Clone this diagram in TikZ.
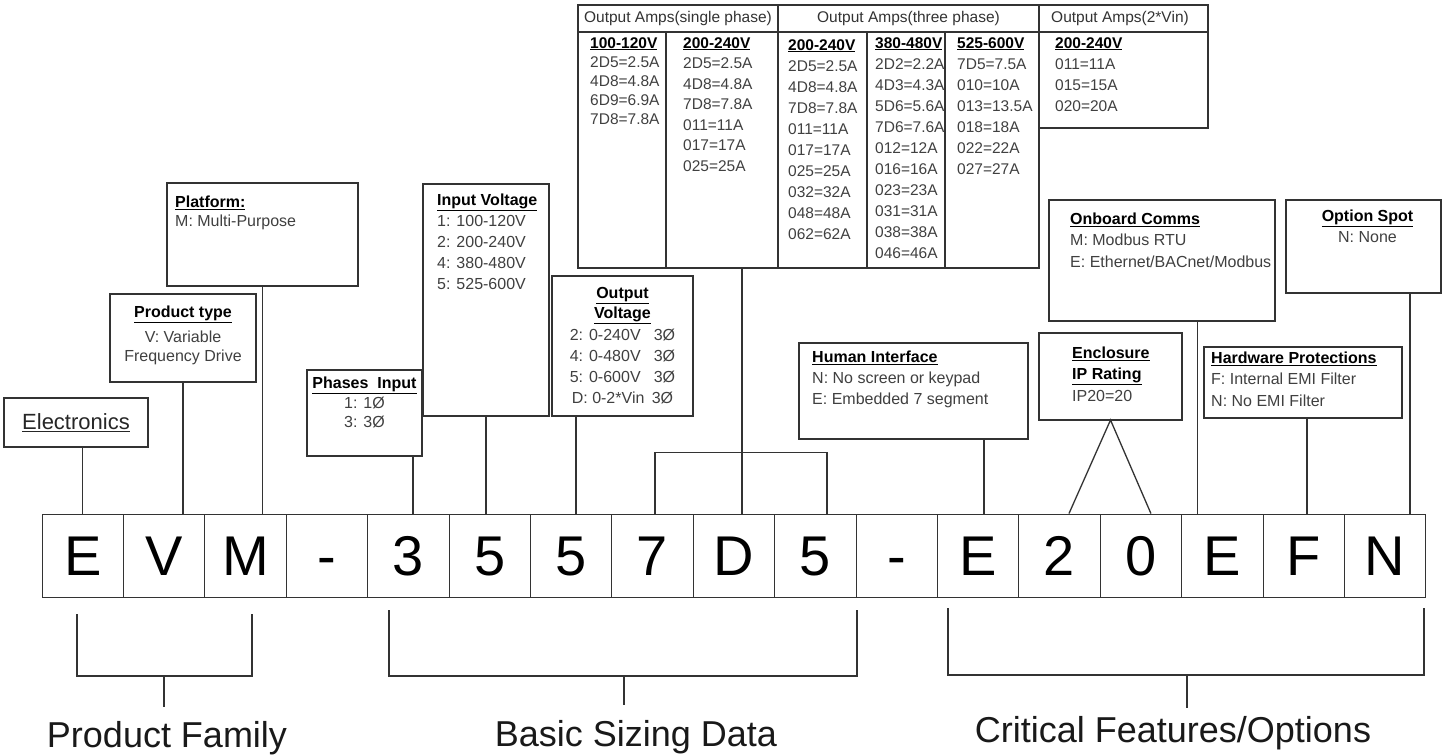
\documentclass[tikz,border=0pt]{standalone}
\usepackage{fontspec}
\setmainfont{Liberation Sans}
\usepackage{tikz}
\usetikzlibrary{positioning, calc}

\newcommand{\hd}[1]{\textbf{\textcolor{black}{\underline{#1}}}}

\begin{document}
\begin{tikzpicture}[x=1pt, y=-1pt,
  box/.style={draw=black!80, line width=1.3pt, inner sep=0pt, outer sep=0pt},
  txt/.style={inner sep=0pt, text=black!75, font=\fontsize{16}{21}\selectfont},
  amp/.style={inner sep=0pt, text=black!75, align=left, anchor=north west, font=\fontsize{15.5}{21}\selectfont},
  amphead/.style={inner sep=0pt, text=black!80, font=\fontsize{15.5}{18}\selectfont},
  cell/.style={draw=black!80, line width=1pt, minimum width=81.4pt, minimum height=83pt, inner sep=0pt, text height=40pt, text depth=0pt, font=\fontsize{56}{60}\selectfont},
  link/.style={draw=black!80, line width=1.3pt},
  group/.style={inner sep=0pt, anchor=base, text=black!90, font=\fontsize{36}{40}\selectfont}]
  \fill[white] (0,0) rectangle (1443,755);
  \useasboundingbox (0,0) rectangle (1443,755);

  % model code
  \foreach \ch [count=\i] in {E,V,M,-,3,5,5,7,D,5,-,E,2,0,E,F,N}
    \node[cell] (c\i) at ({42+81.4*(\i-0.5)},555.5) {\ch};

  % where the connectors land
  \coordinate (t5) at ([xshift=4.7pt]c5.north);
  \coordinate (t6) at ([xshift=-3.7pt]c6.north);
  \coordinate (t7) at ([xshift=5pt]c7.north);
  \coordinate (t8) at ([xshift=2.5pt]c8.north);
  \coordinate (t9) at ([xshift=8pt]c9.north);
  \coordinate (t10) at ([xshift=11.7pt]c10.north);
  \coordinate (t12) at ([xshift=6pt]c12.north);
  \coordinate (t13) at ([xshift=9.5pt]c13.north);
  \coordinate (t14) at ([xshift=10pt]c14.north);
  \coordinate (t15) at ([xshift=-25pt]c15.north);
  \coordinate (t16) at ([xshift=3.3pt]c16.north);
  \coordinate (t17) at ([xshift=25pt]c17.north);

  % product family boxes
  \node[box, anchor=north west, minimum width=144pt, minimum height=49pt, text=black!85,
        font=\fontsize{22}{26}\selectfont] (elec) at (4,398) {\underline{Electronics}};
  \draw[link] (elec.south -| c1.north) -- (c1.north);

  \node[box, anchor=north west, minimum width=146pt, minimum height=88pt] (ptype) at (110,294) {};
  \node[txt, align=center, below=12pt of ptype.north] (ptype-t)
    {\hd{Product type}\\[4pt] V: Variable\\[-2pt] Frequency Drive};
  \draw[link] (ptype.south) -- (ptype.south |- c2.north);

  \node[box, anchor=north west, minimum width=191pt, minimum height=103pt] (plat) at (167,183) {};
  \node[txt, align=left, below right=13pt and 8pt of plat.north west] (plat-t)
    {\hd{Platform:}\\[-2pt] M: Multi-Purpose};
  \draw[link] (plat.south) -- (plat.south |- c3.north);

  % sizing boxes
  \node[box, anchor=north west, minimum width=115pt, minimum height=86pt] (phase) at (307,370) {};
  \node[txt, align=center, below=7pt of phase.north] (phase-t)
    {\hd{Phases\ \ Input}\\[-1pt] 1: 1Ø\\[-2pt] 3: 3Ø};
  \draw[link] (phase.south -| t5) -- (t5);

  \node[box, anchor=north west, minimum width=126pt, minimum height=232pt] (involt) at (423,184) {};
  \node[txt, align=left, below right=10pt and 14pt of involt.north west] (involt-t)
    {\hd{Input Voltage}\\ 1: 100-120V\\ 2: 200-240V\\ 4: 380-480V\\ 5: 525-600V};
  \draw[link] (involt.south -| t6) -- (t6);

  \node[box, anchor=north west, minimum width=141pt, minimum height=140pt] (outvolt) at (552,276) {};
  \node[txt, align=center, below=11pt of outvolt.north] (outvolt-t)
    {\hd{Output}\\[-1pt] \hd{Voltage}\\[1pt]
     \makebox[84pt][l]{2: 0-240V}3Ø\\ \makebox[84pt][l]{4: 0-480V}3Ø\\
     \makebox[84pt][l]{5: 0-600V}3Ø\\ \makebox[80pt][l]{D: 0-2*Vin}3Ø};
  \draw[link] (outvolt.south -| t7) -- (t7);

  % output amps table
  \node[box, anchor=north west, minimum width=461pt, minimum height=263pt] (amps) at (578,5) {};
  \node[box, anchor=north west, minimum width=169pt, minimum height=123pt] (dbl) at (1039,5) {};
  \draw[link] (578,32) -- (1208,32);
  \foreach \x/\y in {778/5, 666/32, 867/32, 945/32}
    \draw[link] (\x,\y) -- (\x,268);
  \node[amphead] (h1) at (678,18.5) {Output Amps(single phase)};
  \node[amphead] (h3) at (908.5,18.5) {Output Amps(three phase)};
  \node[amphead] (h2) at (1120,18.5) {Output Amps(2*Vin)};
  \node[amp, font=\fontsize{15.5}{19}\selectfont] (a1) at (590,37)
    {\hd{100-120V}\\ 2D5=2.5A\\ 4D8=4.8A\\ 6D9=6.9A\\ 7D8=7.8A};
  \node[amp, font=\fontsize{15.5}{20.5}\selectfont] (a2) at (683,37)
    {\hd{200-240V}\\ 2D5=2.5A\\ 4D8=4.8A\\ 7D8=7.8A\\ 011=11A\\ 017=17A\\ 025=25A};
  \node[amp] (a3) at (788,39)
    {\hd{200-240V}\\ 2D5=2.5A\\ 4D8=4.8A\\ 7D8=7.8A\\ 011=11A\\ 017=17A\\ 025=25A\\ 032=32A\\ 048=48A\\ 062=62A};
  \node[amp] (a4) at (875,37)
    {\hd{380-480V}\\ 2D2=2.2A\\ 4D3=4.3A\\ 5D6=5.6A\\ 7D6=7.6A\\ 012=12A\\ 016=16A\\ 023=23A\\ 031=31A\\ 038=38A\\ 046=46A};
  \node[amp] (a5) at (957,37)
    {\hd{525-600V}\\ 7D5=7.5A\\ 010=10A\\ 013=13.5A\\ 018=18A\\ 022=22A\\ 027=27A};
  \node[amp] (a6) at (1055,37)
    {\hd{200-240V}\\ 011=11A\\ 015=15A\\ 020=20A};
  \draw[link] (amps.south -| t9) -- (t9);
  \draw[link] (t8) -- ++(0,-61) -| (t10);

  % feature boxes
  \node[box, anchor=north west, minimum width=229pt, minimum height=96pt] (human) at (799,343) {};
  \node[txt, align=left, below right=8pt and 13pt of human.north west] (human-t)
    {\hd{Human Interface}\\ N: No screen or keypad\\ E: Embedded 7 segment};
  \draw[link] (human.south -| t12) -- (t12);

  \node[box, anchor=north west, minimum width=143pt, minimum height=87pt] (encl) at (1039,333) {};
  \node[txt, align=left, below right=14pt and 33pt of encl.north west] (encl-t)
    {\hd{Enclosure}\\ \hd{IP Rating}\\[1pt] IP20=20};
  \draw[link] (t13) -- (encl.south) -- (t14);

  \node[box, anchor=north west, minimum width=226pt, minimum height=121pt] (comms) at (1049,200) {};
  \node[txt, align=left, below right=13pt and 21pt of comms.north west] (comms-t)
    {\hd{Onboard Comms}\\ M: Modbus RTU\\[1pt] E: Ethernet/BACnet/Modbus};
  \draw[link] (comms.south -| t15) -- (t15);

  \node[box, anchor=north west, minimum width=198pt, minimum height=71pt] (hwp) at (1204,347) {};
  \node[txt, align=left, below right=5pt and 7pt of hwp.north west] (hwp-t)
    {\hd{Hardware Protections}\\ F: Internal EMI Filter\\[1pt] N: No EMI Filter};
  \draw[link] (hwp.south -| t16) -- (t16);

  \node[box, anchor=north west, minimum width=155pt, minimum height=93pt] (opt) at (1286,200) {};
  \node[txt, align=center, below=10pt of opt.north, xshift=4pt] (opt-t)
    {\hd{Option Spot}\\ N: None};
  \draw[link] (opt.south -| t17) -- (t17);

  % groups below the code
  \coordinate (bfam) at (164,676);
  \coordinate (bsize) at (624,676);
  \coordinate (bfeat) at (1187,675);
  \draw[link] (77,614) |- (252,676) -- (252,614);
  \draw[link] (389,610) |- (857,676) -- (857,610);
  \draw[link] (948,608) |- (1424,675) -- (1424,608);
  \draw[link] (bfam) -- ++(0,31);
  \draw[link] (bsize) -- ++(0,29);
  \draw[link] (bfeat) -- ++(0,33);
  \node[group] (fam) at (167,747) {Product Family};
  \node[group] (size) at (636,746) {Basic Sizing Data};
  \node[group] (feat) at (1173,742) {Critical Features/Options};
\end{tikzpicture}
\end{document}
